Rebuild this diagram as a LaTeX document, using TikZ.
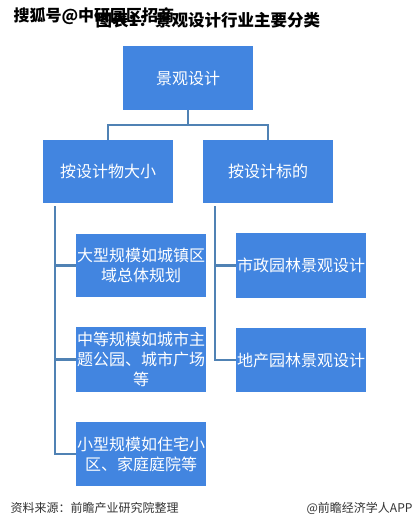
\documentclass[tikz,border=0pt]{standalone}
\usepackage{fontspec}
\newfontfamily\cjk{Noto Sans CJK SC}
\definecolor{boxblue}{RGB}{66,133,224}
\definecolor{lineblue}{RGB}{80,130,180}
\definecolor{foot}{RGB}{51,51,51}
\begin{document}
\begin{tikzpicture}[x=1pt,y=1pt,
  box/.style={fill=boxblue, minimum width=130pt, minimum height=64pt, inner sep=0pt,
    text=white, align=center, font=\cjk\fontsize{16}{20}\selectfont},
  conn/.style={draw=lineblue, line width=2.5pt},
  wmf/.style={anchor=west, font=\cjk\bfseries\fontsize{16}{18}\selectfont}]
\useasboundingbox (0,0) rectangle (416,-530);
\fill[white] (0,0) rectangle (416,-530);
% title
\node[anchor=west, font=\cjk\bfseries\fontsize{16.5}{18}\selectfont] (title) at (92,-20) {图表1：景观设计行业主要分类};
% watermark
\node[wmf, text=black] (wm) at (10,-16) {搜狐号@中研园区招商};
% boxes
\node[box] (top) at (188,-78) {景观设计};
\node[box, minimum height=63pt] (L1) at (108,-171.5) {按设计物大小};
\node[box, minimum height=63pt] (R1) at (268,-171.5) {按设计标的};
\node[box, minimum height=63pt] (A) at (141,-265.5) {大型规模如城镇区\\域总体规划};
\node[box, minimum height=65pt] (B) at (141,-359.5) {中等规模如城市主\\题公园、城市广场\\等};
\node[box] (C) at (141,-454) {小型规模如住宅小\\区、家庭庭院等};
\node[box, minimum height=65pt] (D) at (301,-265.5) {市政园林景观设计};
\node[box] (E) at (301,-360) {地产园林景观设计};
% connectors
\draw[conn] (top.south) -- ++(0,-15) -| (L1.north);
\draw[conn] (top.south) -- ++(0,-15) -| (R1.north);
\coordinate (lt) at ([xshift=12pt,yshift=-3pt]L1.south west);
\coordinate (rt) at ([xshift=12pt,yshift=-3pt]R1.south west);
\draw[conn] (lt) |- (A.west);
\draw[conn] (lt) |- (B.west);
\draw[conn] (lt) |- (C.west);
\draw[conn] (rt) |- (D.west);
\draw[conn] (rt) |- (E.west);
% footer
\node[anchor=west, text=foot, font=\cjk\fontsize{12}{14}\selectfont] (src) at (7,-508) {资料来源：前瞻产业研究院整理};
\node[anchor=east, text=foot, font=\cjk\fontsize{12}{14}\selectfont] (app) at (416,-508) {@前瞻经济学人APP};
\end{tikzpicture}
\end{document}
